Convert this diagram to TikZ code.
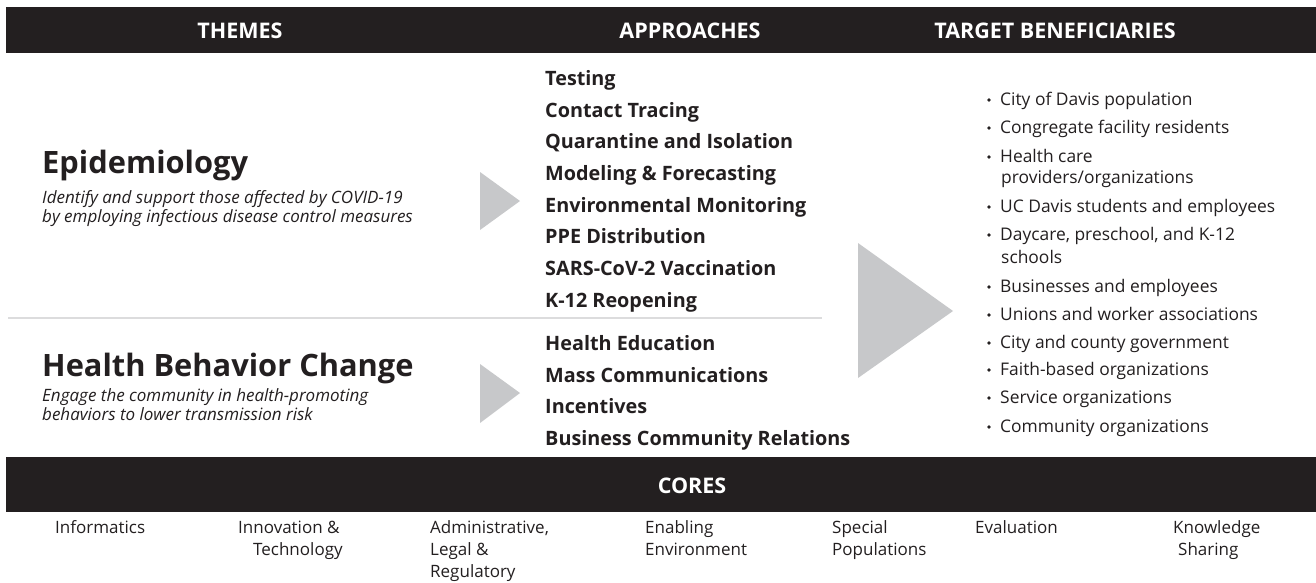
\documentclass[tikz,border=0pt]{standalone}
\usepackage{fontspec}
\setmainfont{Open Sans}
\definecolor{ink}{HTML}{231F20}
\definecolor{arrowgray}{HTML}{C7C8CA}
\definecolor{rulegray}{HTML}{DCDCDD}

\begin{document}
\begin{tikzpicture}[x=1pt, y=-1pt, every node/.style={inner sep=0pt, text=ink}]
      \tikzset{
        bar/.style={fill=ink},
        head/.style={anchor=base, text=white, font=\bfseries\fontsize{21.5}{24}\selectfont},
        theme/.style={anchor=base west, font=\bfseries\fontsize{30.8}{36}\selectfont},
        blurb/.style={anchor=base west, font=\itshape\fontsize{17}{19}\selectfont},
        approach/.style={anchor=base west, font=\bfseries\fontsize{19.8}{23}\selectfont},
        target/.style={anchor=base west, font=\fontsize{17.4}{21}\selectfont},
        dot/.style={circle, fill=ink, inner sep=1.3pt},
        core/.style={anchor=base west, font=\fontsize{17}{20}\selectfont}
      }
      \useasboundingbox (0,0) rectangle (1316,582);
      \fill[white] (0,0) rectangle (1316,582);
      
      % Black header bars
      \fill[bar] (6,7) rectangle (1316,53);
      \fill[bar] (6,457) rectangle (1316,512);
      \node[head] (themes) at (240,38) {THEMES};
      \node[head] (approaches) at (690,38) {APPROACHES};
      \node[head] (targets) at (1055,38) {TARGET BENEFICIARIES};
      \node[head] (cores) at (692,493) {CORES};
      
      % Rule between the two themes
      \draw[rulegray, line width=1.6pt] (8,318) -- (822,318);
      
      % Grey arrow heads
      \fill[arrowgray] (480,172) -- (480,230) -- (520,201) -- cycle;
      \fill[arrowgray] (480,364) -- (480,423) -- (520,393) -- cycle;
      \fill[arrowgray] (858,243) -- (858,378) -- (953,311) -- cycle;
      
      % Themes
      \node[theme] (epi) at (42,173) {Epidemiology};
      \node[blurb] (epi1) at (42,203) {Identify and support those affected by COVID-19};
      \node[blurb] (epi2) at (42,222) {by employing infectious disease control measures};
      \node[theme] (hbc) at (42,376) {Health Behavior Change};
      \node[blurb] (hbc1) at (42,401) {Engage the community in health-promoting};
      \node[blurb] (hbc2) at (42,420) {behaviors to lower transmission risk};
      
      % Approaches for epidemiology
      \node[approach] (a1) at (545,85) {Testing};
      \node[approach] (a2) at (545,117) {Contact Tracing};
      \node[approach] (a3) at (545,148) {Quarantine and Isolation};
      \node[approach] (a4) at (545,180) {Modeling \& Forecasting};
      \node[approach] (a5) at (545,212) {Environmental Monitoring};
      \node[approach] (a6) at (545,243) {PPE Distribution};
      \node[approach] (a7) at (545,275) {SARS-CoV-2 Vaccination};
      \node[approach] (a8) at (545,307) {K-12 Reopening};
      
      % Approaches for behavior change
      \node[approach] (a9) at (545,350) {Health Education};
      \node[approach] (a10) at (545,382) {Mass Communications};
      \node[approach] (a11) at (545,413) {Incentives};
      \node[approach] (a12) at (545,445) {Business Community Relations};
      
      % Target beneficiaries with bullets
      \node[target] (t1) at (1000,105) {City of Davis population};
      \node[target] (t2) at (1000,133) {Congregate facility residents};
      \node[target] (t3) at (1000,162) {Health care};
      \node[target] (t3b) at (1001,183) {providers/organizations};
      \node[target] (t4) at (1000,212) {UC Davis students and employees};
      \node[target] (t5) at (1000,240) {Daycare, preschool, and K-12};
      \node[target] (t5b) at (1001,263) {schools};
      \node[target] (t6) at (1000,292) {Businesses and employees};
      \node[target] (t7) at (1000,320) {Unions and worker associations};
      \node[target] (t8) at (1000,348) {City and county government};
      \node[target] (t9) at (1000,375) {Faith-based organizations};
      \node[target] (t10) at (1000,403) {Service organizations};
      \node[target] (t11) at (1000,432) {Community organizations};
      \node[dot] at (989,100) {};
      \node[dot] at (989,128) {};
      \node[dot] at (989,157) {};
      \node[dot] at (989,207) {};
      \node[dot] at (989,235) {};
      \node[dot] at (989,287) {};
      \node[dot] at (989,315) {};
      \node[dot] at (989,343) {};
      \node[dot] at (989,370) {};
      \node[dot] at (989,398) {};
      \node[dot] at (989,427) {};
      
      % Cores row
      \node[core] (c1) at (55,533) {Informatics};
      \node[core] (c2) at (238,533) {Innovation \&};
      \node[core] (c2b) at (253,555) {Technology};
      \node[core] (c3) at (430,533) {Administrative,};
      \node[core] (c3b) at (430,555) {Legal \&};
      \node[core] (c3c) at (430,577) {Regulatory};
      \node[core] (c4) at (645,533) {Enabling};
      \node[core] (c4b) at (645,555) {Environment};
      \node[core] (c5) at (832,533) {Special};
      \node[core] (c5b) at (832,555) {Populations};
      \node[core] (c6) at (975,533) {Evaluation};
      \node[core] (c7) at (1173,533) {Knowledge};
      \node[core] (c7b) at (1178,555) {Sharing};
      
    \end{tikzpicture}
\end{document}
